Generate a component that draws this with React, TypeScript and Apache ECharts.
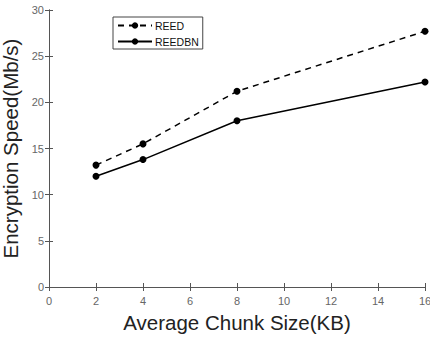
import React, { useEffect, useRef } from "react";
import * as echarts from "echarts";

const xValues = [2, 4, 8, 16];
const reed = [13.2, 15.5, 21.2, 27.7];
const reedbn = [12.0, 13.8, 18.0, 22.2];
const seriesNames = ["REED", "REEDBN"];

export default function App() {
  const ref = useRef<HTMLDivElement>(null);
  useEffect(() => {
    const chart = echarts.init(ref.current!, null, { renderer: "svg" });
    const axisColor = "#555";
    const tickCommon = { show: true, inside: true, length: 4, lineStyle: { color: axisColor, width: 1 } };
    chart.setOption({
      animation: false,
      textStyle: { fontFamily: "Liberation Sans" },
      grid: { left: 49, top: 10, right: 5, bottom: 51, containLabel: false, outerBoundsMode: "none" },
      legend: {
        orient: "vertical",
        left: 113,
        top: 17,
        itemWidth: 34,
        itemHeight: 8,
        itemGap: 5,
        padding: [3, 4, 2, 4],
        borderColor: "#444",
        borderWidth: 1,
        backgroundColor: "#fff",
        textStyle: { fontSize: 10.5, color: "#111", padding: [0, 0, 0, -2] },
        data: seriesNames,
      },
      xAxis: [
        {
          type: "value",
          min: 0,
          max: 16,
          interval: 2,
          name: "Average Chunk Size(KB)",
          nameLocation: "middle",
          nameGap: 25,
          nameTextStyle: { fontSize: 20.5, color: "#222" },
          axisLine: { lineStyle: { color: axisColor } },
          axisTick: tickCommon,
          axisLabel: { color: "#666", fontSize: 11, margin: 8, showMaxLabel: true },
          splitLine: { show: false },
        },
        {
          type: "value",
          position: "top",
          min: 0,
          max: 16,
          interval: 2,
          axisLine: { show: true, lineStyle: { color: axisColor } },
          axisTick: tickCommon,
          axisLabel: { show: false },
          splitLine: { show: false },
        },
      ],
      yAxis: [
        {
          type: "value",
          min: 0,
          max: 30,
          interval: 5,
          name: "Encryption Speed(Mb/s)",
          nameLocation: "middle",
          nameGap: 22,
          nameTextStyle: { fontSize: 20.5, color: "#222" },
          axisLine: { show: true, lineStyle: { color: axisColor } },
          axisTick: tickCommon,
          axisLabel: { color: "#666", fontSize: 11, margin: 5 },
          splitLine: { show: false },
        },
        {
          type: "value",
          position: "right",
          min: 0,
          max: 30,
          interval: 5,
          axisLine: { show: true, lineStyle: { color: axisColor } },
          axisTick: tickCommon,
          axisLabel: { show: false },
          splitLine: { show: false },
        },
      ],
      series: [
        {
          name: seriesNames[0],
          type: "line",
          data: xValues.map((x, i) => [x, reed[i]]),
          symbol: "circle",
          symbolSize: 7,
          itemStyle: { color: "#000" },
          lineStyle: { color: "#000", width: 1.5, type: [6, 5] },
        },
        {
          name: seriesNames[1],
          type: "line",
          data: xValues.map((x, i) => [x, reedbn[i]]),
          symbol: "circle",
          symbolSize: 7,
          itemStyle: { color: "#000" },
          lineStyle: { color: "#000", width: 1.5 },
        },
      ],
    });
    return () => chart.dispose();
  }, []);
  return <div ref={ref} style={{ position: "absolute", left: 0, top: 0, width: 430, height: 338 }} />;
}
